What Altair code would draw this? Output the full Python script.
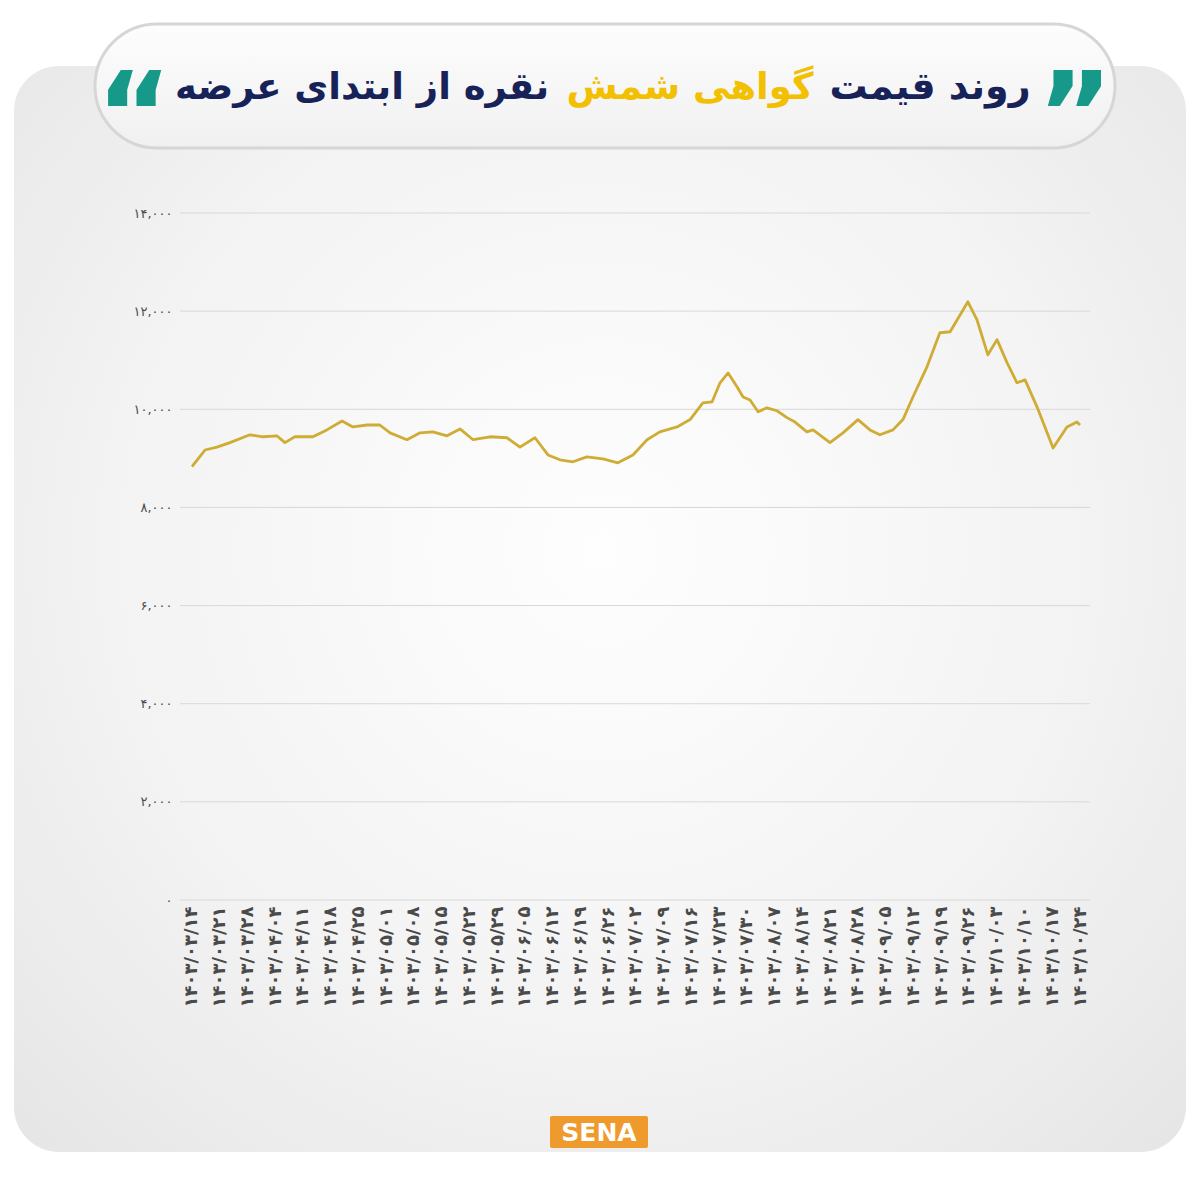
import json
import altair as alt
import pandas as pd

# ---------------- data ----------------
# x position in units of the date-label slots (0 = first label, 32 = last label)
t_pos = [0, 0.47, 0.90, 1.37, 2.09, 2.56, 3.06, 3.35, 3.71, 4.36, 4.86, 5.41, 5.80, 6.31, 6.77,
         7.14, 7.75, 8.22, 8.68, 9.19, 9.66, 10.13, 10.74, 11.35, 11.82, 12.36, 12.83, 13.26,
         13.73, 14.23, 14.81, 15.35, 15.89, 16.40, 16.86, 17.48, 17.95, 18.41, 18.74, 19.03,
         19.32, 19.64, 19.86, 20.11, 20.40, 20.72, 21.08, 21.44, 21.73, 22.16, 22.38, 22.99,
         23.46, 24.00, 24.43, 24.79, 25.26, 25.62, 25.98, 26.49, 26.95, 27.32, 27.57, 27.96,
         28.29, 28.68, 29.01, 29.37, 29.73, 30.02, 30.45, 31.03, 31.53, 31.89, 32.0]
prices = [8830, 9170, 9230, 9320, 9480, 9440, 9460, 9320, 9440, 9440, 9580, 9760, 9640, 9680, 9680,
          9520, 9380, 9520, 9540, 9460, 9600, 9380, 9440, 9420, 9230, 9420, 9070, 8970,
          8930, 9030, 8990, 8910, 9070, 9380, 9540, 9640, 9790, 10130, 10150, 10540,
          10740, 10460, 10250, 10190, 9950, 10030, 9970, 9830, 9740, 9540, 9580, 9320,
          9520, 9790, 9580, 9480, 9580, 9790, 10250, 10870, 11560, 11580, 11820, 12190,
          11820, 11110, 11420, 10950, 10540, 10600, 10050, 9210, 9640, 9740, 9680]

x_labels = ["۱۴۰۳/۰۳/۱۴", "۱۴۰۳/۰۳/۲۱", "۱۴۰۳/۰۳/۲۸", "۱۴۰۳/۰۴/۰۴", "۱۴۰۳/۰۴/۱۱",
            "۱۴۰۳/۰۴/۱۸", "۱۴۰۳/۰۴/۲۵", "۱۴۰۳/۰۵/۰۱", "۱۴۰۳/۰۵/۰۸", "۱۴۰۳/۰۵/۱۵",
            "۱۴۰۳/۰۵/۲۲", "۱۴۰۳/۰۵/۲۹", "۱۴۰۳/۰۶/۰۵", "۱۴۰۳/۰۶/۱۲", "۱۴۰۳/۰۶/۱۹",
            "۱۴۰۳/۰۶/۲۶", "۱۴۰۳/۰۷/۰۲", "۱۴۰۳/۰۷/۰۹", "۱۴۰۳/۰۷/۱۶", "۱۴۰۳/۰۷/۲۳",
            "۱۴۰۳/۰۷/۳۰", "۱۴۰۳/۰۸/۰۷", "۱۴۰۳/۰۸/۱۴", "۱۴۰۳/۰۸/۲۱", "۱۴۰۳/۰۸/۲۸",
            "۱۴۰۳/۰۹/۰۵", "۱۴۰۳/۰۹/۱۲", "۱۴۰۳/۰۹/۱۹", "۱۴۰۳/۰۹/۲۶", "۱۴۰۳/۱۰/۰۳",
            "۱۴۰۳/۱۰/۱۰", "۱۴۰۳/۱۰/۱۷", "۱۴۰۳/۱۰/۲۴"]
x_ticks = list(range(len(x_labels)))

y_ticks = [0, 2000, 4000, 6000, 8000, 10000, 12000, 14000]
y_labels = ["۰", "۲,۰۰۰", "۴,۰۰۰", "۶,۰۰۰", "۸,۰۰۰", "۱۰,۰۰۰", "۱۲,۰۰۰", "۱۴,۰۰۰"]

title_right = "روند قیمت"
title_mid = "گواهی شمش"
title_left = "نقره از ابتدای عرضه"

# ---------------- layout ----------------
W, H = 910, 687
OX, OY = 180, 213  # page position of the plot origin


def px(v):
    return v - OX


def py(v):
    return v - OY


FONT = "DejaVu Sans"
one = pd.DataFrame({"k": [0]})
df = pd.DataFrame({"t": t_pos, "price": prices})
grid_df = pd.DataFrame({"v": y_ticks})

xscale = alt.Scale(domain=[-0.43, 32.36], nice=False, zero=False)
yscale = alt.Scale(domain=[0, 14000], nice=False)

y_axis = alt.Axis(
    values=y_ticks,
    labelExpr=f"{json.dumps(y_labels, ensure_ascii=False)}[indexof({json.dumps(y_ticks)}, datum.value)]",
    title=None, ticks=False, domain=False, grid=False, labelPadding=8,
    labelFontSize=13, labelColor="#4a4a4a", labelFont=FONT, zindex=1,
)
x_axis = alt.Axis(
    values=x_ticks,
    labelExpr=f"{json.dumps(x_labels, ensure_ascii=False)}[datum.value]",
    title=None, ticks=False, domain=False, grid=False, labelAngle=-90,
    labelPadding=6, labelFontSize=18, labelColor="#4a4a4a", labelFont=FONT,
    labelFontWeight="bold", labelOverlap=False, zindex=1,
)

bg_grad = alt.RadialGradient(
    gradient="radial",
    stops=[alt.GradientStop(color="#fefefe", offset=0),
           alt.GradientStop(color="#f3f3f3", offset=0.55),
           alt.GradientStop(color="#e4e4e4", offset=1)],
    x1=0.5, y1=0.45, x2=0.5, y2=0.45, r1=0, r2=0.75,
)
pill_grad = alt.LinearGradient(
    gradient="linear",
    stops=[alt.GradientStop(color="#fdfdfd", offset=0),
           alt.GradientStop(color="#f0f0f0", offset=1)],
    x1=0, y1=0, x2=0, y2=1,
)

bg = alt.Chart(one).mark_rect(cornerRadius=45, fill=bg_grad).encode(
    x=alt.value(px(14)), x2=alt.value(px(1186)),
    y=alt.value(py(66)), y2=alt.value(py(1152)),
)

pill = alt.Chart(one).mark_rect(cornerRadius=62, fill=pill_grad, stroke="#d6d6d6", strokeWidth=3).encode(
    x=alt.value(px(95)), x2=alt.value(px(1115)),
    y=alt.value(py(24)), y2=alt.value(py(148)),
)


def title_text(txt, cx, cy, color, size=37):
    return alt.Chart(one).mark_text(
        text=txt, font=FONT, fontSize=size, fontWeight="bold", color=color,
        align="center", baseline="middle",
    ).encode(x=alt.value(px(cx)), y=alt.value(py(cy)))


t1 = title_text(title_right, 930, 88, "#172259", 38)
t2 = title_text(title_mid, 690, 88, "#f2c000")
t3 = title_text(title_left, 362, 88, "#172259")
q_right = title_text("”", 1075, 120, "#17998a", 115)
q_left = title_text("“", 134, 120, "#17998a", 115)

grid = alt.Chart(grid_df).mark_rule(color="#d8d8d8", strokeWidth=1).encode(
    y=alt.Y("v:Q", scale=yscale, axis=y_axis),
)

line = alt.Chart(df).mark_line(color="#cfac34", strokeWidth=2.8, strokeJoin="round").encode(
    x=alt.X("t:Q", scale=xscale, axis=x_axis),
    y=alt.Y("price:Q", scale=yscale, axis=y_axis),
)

logo_box = alt.Chart(one).mark_rect(fill="#ee9a2c", cornerRadius=2).encode(
    x=alt.value(px(550)), x2=alt.value(px(648)),
    y=alt.value(py(1116)), y2=alt.value(py(1148)),
)
logo_txt = alt.Chart(one).mark_text(
    text="SENA", font=FONT, fontSize=25, fontWeight="bold", color="#ffffff",
    align="center", baseline="middle",
).encode(x=alt.value(px(599)), y=alt.value(py(1133)))

chart = alt.layer(bg, pill, q_left, q_right, t1, t2, t3, grid, line, logo_box, logo_txt).properties(
    width=W, height=H,
    autosize=alt.AutoSizeParams(type="none"),
    padding={"left": 172, "top": 205, "right": 102, "bottom": 292},
    background="#ffffff",
).configure_view(stroke=None)

chart.save("out.html", embed_options={"renderer": "svg", "actions": False})
